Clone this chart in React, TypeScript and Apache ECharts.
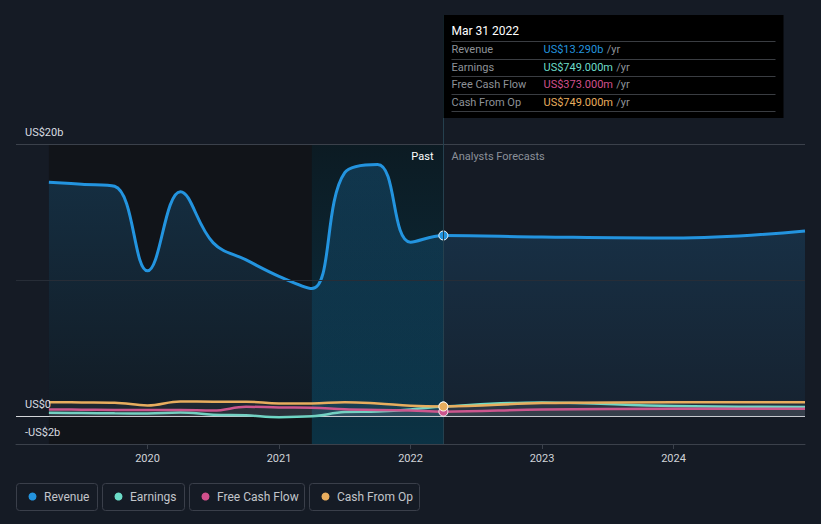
import React, { useEffect, useRef } from "react";
import * as echarts from "echarts";

// ---- data (US$ billions) ----
const xPast = [2019.25, 2019.5, 2019.75, 2020.0, 2020.25, 2020.5, 2020.75, 2021.0, 2021.25, 2021.5, 2021.75, 2022.0, 2022.25];
const xForecast = [2023.0, 2024.0, 2025.0];

const revenuePast = [17.2, 17.05, 16.9, 10.7, 16.5, 12.75, 11.5, 10.3, 9.4, 17.9, 18.5, 12.8, 13.29];
const revenueForecast = [13.18, 13.1, 13.62];

const earningsPast = [0.29, 0.27, 0.25, 0.24, 0.31, 0.15, 0.1, -0.03, 0.03, 0.34, 0.39, 0.53, 0.749];
const earningsForecast = [1.05, 0.78, 0.72];

const fcfPast = [0.53, 0.52, 0.5, 0.5, 0.5, 0.45, 0.73, 0.68, 0.66, 0.55, 0.5, 0.45, 0.373];
const fcfForecast = [0.53, 0.58, 0.58];

const cfoPast = [1.07, 1.05, 1.03, 0.83, 1.12, 1.1, 1.1, 0.97, 0.97, 1.07, 0.97, 0.8, 0.749];
const cfoForecast = [1.0, 1.07, 1.07];

const seriesNames = ["Revenue", "Earnings", "Free Cash Flow", "Cash From Op"];
const seriesColors = ["#2394df", "#6cdcc8", "#d1508c", "#e8ad5e"];
const tooltipDate = "Mar 31 2022";
const tooltipValues = ["US$13.290b", "US$749.000m", "US$373.000m", "US$749.000m"];

const xTickValues = [2020, 2021, 2022, 2023, 2024];
const yTickValues = [-2, 0, 20];
const yTickLabels = ["-US$2b", "US$0", "US$20b"];
const gridValues = [10, 20];

const pastStart = 2019.25;
const highlightStart = 2021.25;
const pastEnd = 2022.25;

const FONT = "Roboto, 'Noto Sans', sans-serif";

function build(past: number[], fc: number[]) {
  const xs = [...xPast, ...xForecast];
  const ys = [...past, ...fc];
  return xs.map((x, i) =>
    i === xPast.length - 1
      ? { value: [x, ys[i]], symbol: "circle", symbolSize: 9 }
      : { value: [x, ys[i]], symbol: "none" }
  );
}

export default function App() {
  const ref = useRef<HTMLDivElement>(null);
  useEffect(() => {
    if (!ref.current) return;
    const chart = echarts.init(ref.current, null, { renderer: "svg" });
    const allData = [
      build(revenuePast, revenueForecast),
      build(earningsPast, earningsForecast),
      build(fcfPast, fcfForecast),
      build(cfoPast, cfoForecast),
    ];
    const zs = [3, 6, 7, 8];
    const mainSeries: any[] = allData.map((d, i) => ({
      type: "line",
      name: seriesNames[i],
      data: d,
      smooth: 0.4,
      showSymbol: true,
      z: zs[i],
      lineStyle: { color: seriesColors[i], width: i === 0 ? 3 : 2.5 },
      itemStyle: { color: seriesColors[i], borderColor: "#ffffff", borderWidth: 1 },
      areaStyle:
        i === 0
          ? {
              color: new echarts.graphic.LinearGradient(0, 0, 0, 1, [
                { offset: 0, color: "rgba(35,148,223,0.30)" },
                { offset: 1, color: "rgba(35,148,223,0.08)" },
              ]),
            }
          : { color: "rgba(150,160,170,0.13)" },
      emphasis: { disabled: true },
    }));

    const option: any = {
      animation: false,
      backgroundColor: "#151b25",
      textStyle: { fontFamily: FONT },
      grid: { left: 16, right: 16, top: 144, bottom: 80 },
      xAxis: {
        type: "value",
        min: 2019,
        max: 2025,
        interval: 1,
        axisLine: { show: true, onZero: false, lineStyle: { color: "#3b414b", width: 1 } },
        axisTick: { show: true, length: 5, lineStyle: { color: "#3b414b" }, customValues: xTickValues },
        axisLabel: {
          color: "#d0d3d8",
          fontSize: 11,
          fontFamily: FONT,
          margin: 9,
          customValues: xTickValues,
          formatter: (v: number) => String(v),
        },
        splitLine: { show: false },
      },
      yAxis: {
        type: "value",
        min: -2,
        max: 20,
        interval: 2,
        axisLine: { show: false },
        axisTick: { show: false },
        splitLine: { show: false },
        axisLabel: { show: false },
      },
      series: [
        {
          type: "line",
          data: [],
          z: 0,
          silent: true,
          markArea: {
            silent: true,
            data: [
              [
                { xAxis: pastStart, yAxis: 20, itemStyle: { color: "#111419" } },
                { xAxis: highlightStart, yAxis: -2 },
              ],
              [
                {
                  xAxis: highlightStart,
                  yAxis: 20,
                  itemStyle: {
                    color: new echarts.graphic.LinearGradient(0, 0, 0, 1, [
                      { offset: 0, color: "#0c1b23" },
                      { offset: 1, color: "#0b3244" },
                    ]),
                  },
                },
                { xAxis: pastEnd, yAxis: -2 },
              ],
            ],
          },
          markLine: {
            silent: true,
            symbol: "none",
            label: { show: false },
            data: [
              { yAxis: gridValues[0], lineStyle: { color: "#272d37", width: 1, type: "solid" } },
              { yAxis: gridValues[1], lineStyle: { color: "#3b414b", width: 1, type: "solid" } },
              { xAxis: pastEnd, lineStyle: { color: "#25404e", width: 1, type: "solid" } },
            ],
          },
        },
        {
          type: "line",
          data: [],
          z: 2,
          silent: true,
          markLine: {
            silent: true,
            symbol: "none",
            label: { show: false },
            data: [{ yAxis: 0, lineStyle: { color: "#d4d6da", width: 1.2, type: "solid" } }],
          },
        },
        ...mainSeries,
      ],
    };
    chart.setOption(option);

    const p = chart.convertToPixel({ gridIndex: 0 }, [pastEnd, 20]) as number[];
    const px = Math.round(p[0]) + 0.5;
    const top = p[1];
    const boxX = px;
    const boxY = 15;
    const boxW = 340;
    const rowH = 17.5;
    const graphics: any[] = [];
    // y-axis labels, placed just above their value lines
    yTickValues.forEach((v, i) => {
      const q = chart.convertToPixel({ gridIndex: 0 }, [2019, v]) as number[];
      graphics.push({
        type: "text",
        silent: true,
        x: q[0] + 9,
        y: q[1] - 12,
        style: { text: yTickLabels[i], fill: "#d8dbe0", font: `11px ${FONT}`, verticalAlign: "middle" },
        z: 12,
      });
    });
    graphics.push({
      type: "line",
      silent: true,
      shape: { x1: px, y1: boxY, x2: px, y2: top },
      style: { stroke: "#25404e", lineWidth: 1 },
      z: 1,
    });
    graphics.push({
      type: "rect",
      silent: true,
      shape: { x: boxX, y: boxY, width: boxW, height: 103 },
      style: { fill: "#000000" },
      z: 10,
    });
    graphics.push({
      type: "text",
      silent: true,
      x: boxX + 8,
      y: boxY + 16,
      style: { text: tooltipDate, fill: "#ffffff", font: `12px ${FONT}`, verticalAlign: "middle" },
      z: 11,
    });
    for (let i = 0; i < 5; i++) {
      const ly = Math.round(boxY + 26 + i * rowH) + 0.5;
      graphics.push({
        type: "line",
        silent: true,
        shape: { x1: boxX + 8, y1: ly, x2: boxX + 332, y2: ly },
        style: { stroke: "#3a3d42", lineWidth: 1 },
        z: 11,
      });
    }
    seriesNames.forEach((n, i) => {
      const cy = boxY + 26 + i * rowH + rowH / 2;
      graphics.push({
        type: "text",
        silent: true,
        x: boxX + 8,
        y: cy,
        style: { text: n, fill: "#8e9298", font: `11px ${FONT}`, verticalAlign: "middle" },
        z: 11,
      });
      graphics.push({
        type: "text",
        silent: true,
        x: boxX + 100,
        y: cy,
        style: {
          text: `{v|${tooltipValues[i]}} {u|/yr}`,
          verticalAlign: "middle",
          rich: {
            v: { fill: seriesColors[i], font: `11px ${FONT}`, color: seriesColors[i] },
            u: { fill: "#8e9298", font: `11px ${FONT}`, color: "#8e9298" },
          } as any,
        },
        z: 11,
      });
    });
    graphics.push({
      type: "text",
      silent: true,
      x: px - 10,
      y: top + 12,
      style: { text: "Past", fill: "#ffffff", font: `11px ${FONT}`, align: "right", verticalAlign: "middle" },
      z: 11,
    });
    graphics.push({
      type: "text",
      silent: true,
      x: px + 8,
      y: top + 12,
      style: { text: "Analysts Forecasts", fill: "#8b9099", font: `11px ${FONT}`, verticalAlign: "middle" },
      z: 11,
    });
    // legend
    const legendW = [81, 82, 115, 110];
    let lx = 16;
    seriesNames.forEach((n, i) => {
      graphics.push({
        type: "rect",
        silent: true,
        shape: { x: lx + 0.5, y: 483.5, width: legendW[i], height: 27, r: 3 },
        style: { fill: "transparent", stroke: "#3a3f4a", lineWidth: 1 },
        z: 11,
      });
      graphics.push({
        type: "circle",
        silent: true,
        shape: { cx: lx + 16.5, cy: 496.5, r: 4 },
        style: { fill: seriesColors[i] },
        z: 11,
      });
      graphics.push({
        type: "text",
        silent: true,
        x: lx + 28,
        y: 497,
        style: { text: n, fill: "#c2c5ca", font: `12px ${FONT}`, verticalAlign: "middle" },
        z: 11,
      });
      lx += legendW[i] + 5;
    });
    chart.setOption({ graphic: graphics });

    return () => chart.dispose();
  }, []);
  return (
    <div
      ref={ref}
      style={{ position: "fixed", left: 0, top: 0, width: 821, height: 524 }}
    />
  );
}
